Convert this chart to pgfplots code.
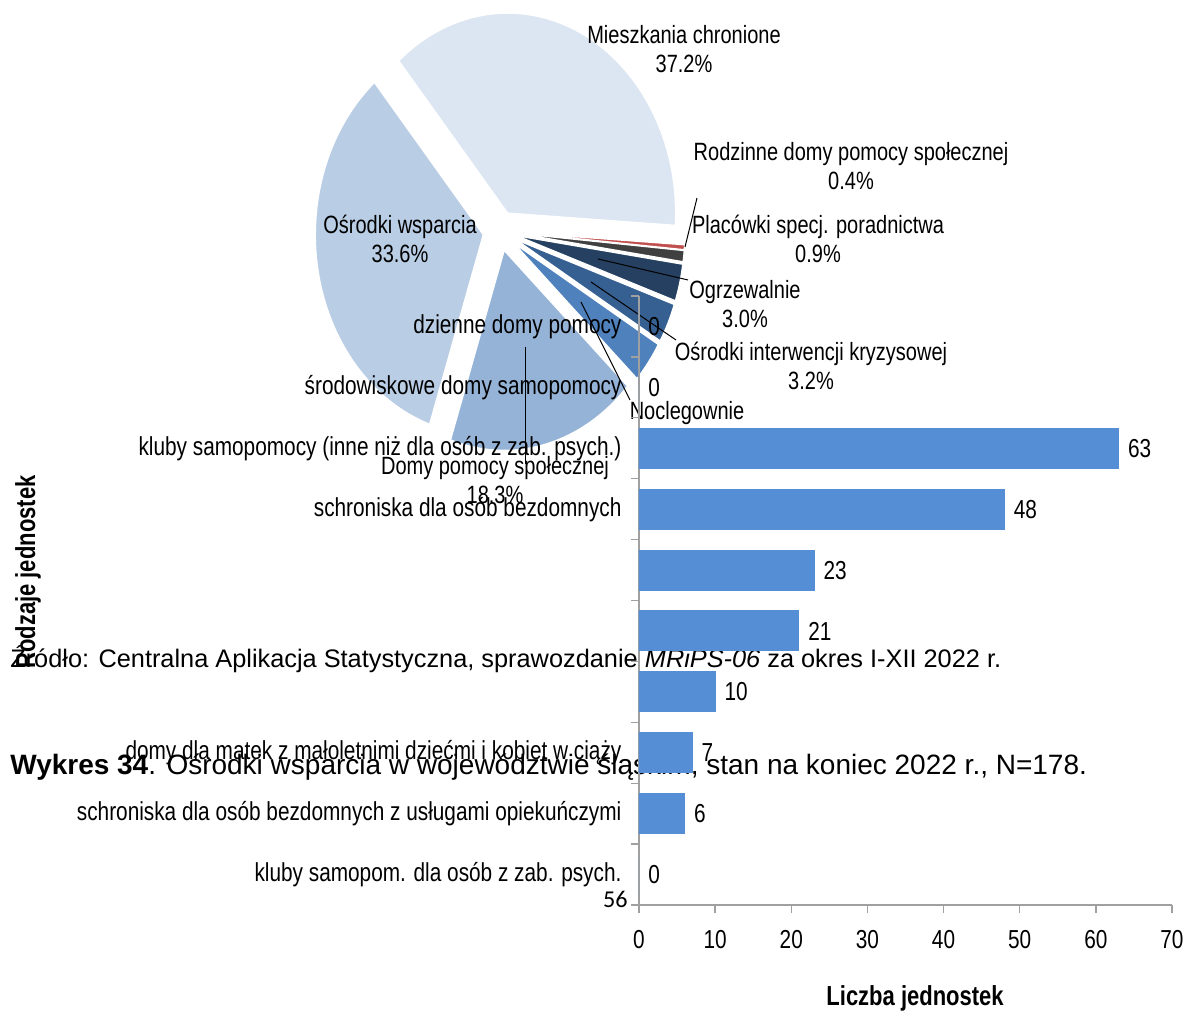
\documentclass[border=0pt]{standalone}
\usepackage{fontspec}
\setmainfont{Liberation Sans}
\newfontfamily\narrow[FakeStretch=0.8]{Liberation Sans}
\newfontfamily\calib{Carlito}
\usepackage{pgfplots}
\pgfplotsset{compat=1.18}

\definecolor{cM}{HTML}{DCE6F2}
\definecolor{cW}{HTML}{B9CDE5}
\definecolor{cD}{HTML}{95B3D7}
\definecolor{cN}{HTML}{4F81BD}
\definecolor{cI}{HTML}{376092}
\definecolor{cO}{HTML}{254061}
\definecolor{cP}{HTML}{404040}
\definecolor{cR}{HTML}{C0504D}
\definecolor{barblue}{HTML}{558ED5}
\definecolor{axgray}{HTML}{A0A0A0}

\newcommand\lab{\narrow\fontsize{15}{17.4}\selectfont}
\newcommand\tlab{\narrow\fontsize{15.6}{18}\selectfont}

\begin{document}
\begin{tikzpicture}[x=0.6pt,y=0.6pt]
\useasboundingbox (0,0) rectangle (1186,1014);

% report text behind the charts
\node[anchor=base west, inner sep=0, font=\fontsize{15.2}{17}\selectfont] at (10,346)
  {Źródło: Centralna Aplikacja Statystyczna, sprawozdanie \textit{MRiPS-06} za okres I-XII 2022 r.};
\node[anchor=base west, inner sep=0, font=\fontsize{16.8}{19}\selectfont] at (10,239)
  {\textbf{Wykres 34}. Ośrodki wsparcia w województwie śląskim, stan na koniec 2022 r., N=178.};
\node[anchor=base east, inner sep=0, font=\calib\fontsize{14.5}{16}\selectfont] at (628,106) {56};

% pie: shares in %, clockwise from Mieszkania chronione
\gdef\cur{130.4}
\foreach \p/\col in {37.2/cM,0.4/cR,0.9/cP,3.0/cO,3.2/cI,3.4/cN,18.3/cD,33.6/cW}{
  \pgfmathsetmacro\e{\cur-3.6*\p}
  \pgfmathsetmacro\m{(\cur+\e)/2}
  \filldraw[fill=\col, draw=white, line width=0.8pt]
    ({500+17*cos(\m)},{783+20*sin(\m)}) -- ++({168*cos(\e)},{200*sin(\e)})
    arc[start angle=\e, end angle=\cur, x radius=100.8pt, y radius=120pt] -- cycle;
  \xdef\cur{\e}
}

% leader lines
\draw[line width=0.6pt] (685,767) -- (697,816);
\draw[line width=0.6pt] (598,755) -- (688,734);
\draw[line width=0.6pt] (591,732) -- (676,674);
\draw[line width=0.6pt] (581,712) -- (630,614);
\draw[line width=0.6pt] (525,667) -- (525,550);

% pie labels
\begin{scope}[every node/.style={align=center, font=\lab, inner sep=0}]
\node at (684,964.5) {Mieszkania chronione\\37.2\%};
\node at (851,847.5) {Rodzinne domy pomocy społecznej\\0.4\%};
\node at (818,775.5) {Placówki specj. poradnictwa\\0.9\%};
\node at (745,709.5) {Ogrzewalnie\\3.0\%};
\node at (811,648.5) {Ośrodki interwencji kryzysowej\\3.2\%};
\node at (687,588.5) {Noclegownie\\3.4\%};
\node at (400,775) {Ośrodki wsparcia\\33.6\%};
\node at (495,534) {Domy pomocy społecznej\\18.3\%};
\end{scope}

\begin{axis}[
  at={(383.4pt,65.4pt)}, anchor=south west,
  scale only axis, width=319.8pt, height=365.4pt,
  xbar, bar width=24pt, bar shift=0pt,
  xmin=0, xmax=70, ymin=0.5, ymax=10.5, y dir=reverse,
  enlargelimits=false,
  axis x line*=bottom, axis y line*=left,
  axis line style={axgray, line width=0.8pt},
  xtick={0,10,...,70}, minor xtick={0,10,...,70},
  ytick={1,...,10}, minor ytick={0.5,1.5,...,10.5},
  yticklabels={{dzienne domy pomocy},{środowiskowe domy samopomocy},
    {kluby samopomocy (inne niż dla osób z zab. psych.)},{schroniska dla osób bezdomnych},
    {},{},{},
    {domy dla matek z małoletnimi dziećmi i kobiet w ciąży},
    {schroniska dla osób bezdomnych z usługami opiekuńczymi},
    {kluby samopom. dla osób z zab. psych.}},
  major tick length=0pt, minor tick length=4.8pt, tick align=outside,
  minor tick style={axgray, line width=0.8pt},
  tick label style={font=\tlab},
  /pgf/number format/assume math mode=true,
  xticklabel style={yshift=-11.4pt},
  yticklabel style={xshift=-7pt},
  nodes near coords,
  every node near coord/.append style={font=\tlab, black, xshift=2pt},
  xlabel={Liczba jednostek}, ylabel={Rodzaje jednostek},
  xlabel style={at={(axis description cs:0.518,-0.1527)}, anchor=center,
    font=\narrow\bfseries\fontsize{16.5}{19}\selectfont},
  ylabel style={at={(axis description cs:-1.1463,0.5468)}, anchor=center,
    font=\narrow\bfseries\fontsize{16.5}{19}\selectfont},
]
\addplot[fill=barblue, draw=barblue, line width=0.6pt] coordinates {
  (0,1) (0,2) (63,3) (48,4) (23,5) (21,6) (10,7) (7,8) (6,9) (0,10)};
\end{axis}
\end{tikzpicture}
\end{document}
